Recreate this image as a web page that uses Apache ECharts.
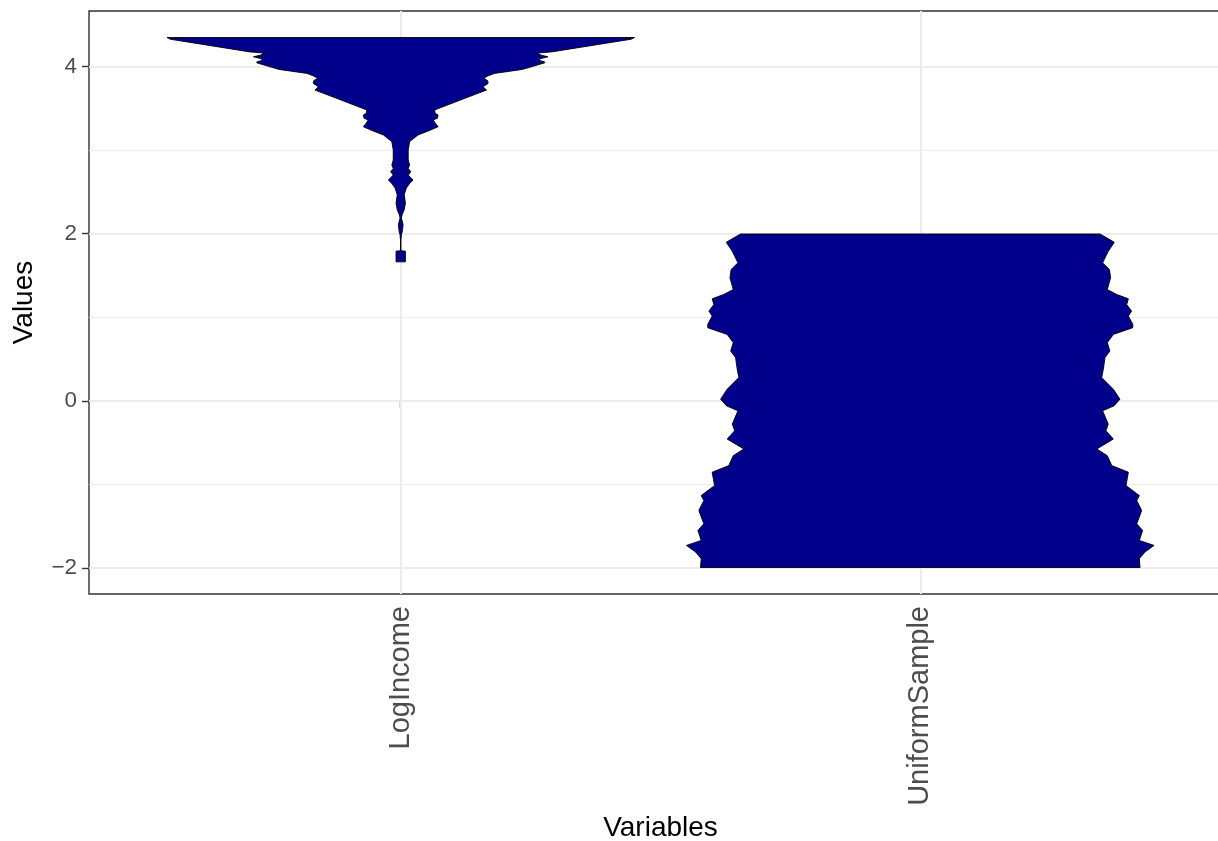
<!DOCTYPE html>
<html>
<head>
<meta charset="utf-8">
<script src="https://cdn.jsdelivr.net/npm/echarts@6/dist/echarts.min.js"></script>
<style>
  html, body { margin: 0; padding: 0; background: #fff; }
  #chart { width: 1218px; height: 841px; }
</style>
</head>
<body>
<div id="chart"></div>
<script>
// ---------- data ----------
const categories = ['LogIncome', 'UniformSample'];
const categoryPositions = [1, 2];
const xAxisTitle = 'Variables';
const yAxisTitle = 'Values';
const yTicks = [-2, 0, 2, 4];
const yMinorGrid = [-1, 1, 3];

// violin outlines: [value, relative half-width (1 = widest)]
const logIncomeProfile = [
  [4.346, 1.000], [4.325, 0.985], [4.174, 0.645], [4.160, 0.585], [4.135, 0.600],
  [4.115, 0.630], [4.095, 0.600], [4.075, 0.588], [4.055, 0.615], [4.043, 0.616],
  [3.964, 0.520], [3.916, 0.400], [3.885, 0.372], [3.857, 0.355], [3.830, 0.372],
  [3.797, 0.374], [3.757, 0.352], [3.717, 0.367], [3.618, 0.274], [3.479, 0.145],
  [3.440, 0.147], [3.419, 0.160], [3.380, 0.157], [3.360, 0.139], [3.320, 0.148],
  [3.279, 0.160], [3.230, 0.120], [3.180, 0.074], [3.100, 0.038], [3.000, 0.032],
  [2.880, 0.032], [2.820, 0.038], [2.780, 0.032], [2.740, 0.043], [2.700, 0.032],
  [2.640, 0.053], [2.600, 0.038], [2.545, 0.024], [2.465, 0.015], [2.365, 0.020],
  [2.286, 0.015], [2.226, 0.006], [2.186, 0.003], [2.107, 0.010], [2.027, 0.007],
  [1.987, 0.003], [1.920, 0.001], [1.795, 0.001], [1.790, 0.020], [1.662, 0.020]
];
const uniformSampleProfile = [
  [1.995, 0.769], [1.896, 0.830], [1.788, 0.804], [1.650, 0.780], [1.570, 0.809],
  [1.471, 0.814], [1.331, 0.800], [1.272, 0.840], [1.220, 0.890], [1.152, 0.883],
  [1.072, 0.904], [1.013, 0.890], [0.914, 0.909], [0.874, 0.909], [0.794, 0.826],
  [0.695, 0.800], [0.595, 0.811], [0.516, 0.790], [0.377, 0.783], [0.278, 0.776],
  [0.138, 0.826], [0.019, 0.854], [-0.061, 0.829], [-0.120, 0.780], [-0.279, 0.804],
  [-0.359, 0.794], [-0.458, 0.826], [-0.577, 0.755], [-0.657, 0.800], [-0.776, 0.819],
  [-0.855, 0.890], [-1.015, 0.880], [-1.134, 0.937], [-1.194, 0.926], [-1.313, 0.947],
  [-1.472, 0.926], [-1.552, 0.951], [-1.671, 0.937], [-1.731, 1.000], [-1.810, 0.961],
  [-1.889, 0.937], [-1.995, 0.940]
];
const profiles = [logIncomeProfile, uniformSampleProfile];

// ---------- chart ----------
const VIOLIN_HALF = 0.45;
const allY = profiles.flat().map(p => p[0]);
const yLo = Math.min(...allY), yHi = Math.max(...allY);
const yPad = (yHi - yLo) * 0.05;

const font = "'Liberation Sans', Arial, Helvetica, sans-serif";
const gridColor = '#EBEBEB';

function fmtNum(v) { return v < 0 ? '\u2212' + Math.abs(v) : String(v); }

const chart = echarts.init(document.getElementById('chart'), null, { renderer: 'canvas' });
const option = {
  animation: false,
  backgroundColor: '#ffffff',
  grid: {
    left: 89, top: 11, width: 1143, height: 583,
    outerBoundsMode: 'none',
    show: true, borderColor: '#333333', borderWidth: 1.4, backgroundColor: 'transparent',
    containLabel: false
  },
  xAxis: {
    type: 'value',
    min: 0.4, max: 2.6,
    axisLine: { show: false },
    splitLine: { show: false },
    axisTick: { show: true, customValues: categoryPositions, length: 7, lineStyle: { color: '#333333', width: 1.4 } },
    axisLabel: {
      show: true, customValues: categoryPositions, rotate: 90, margin: 12,
      fontSize: 29, color: '#4D4D4D', fontFamily: font,
      formatter: v => categories[categoryPositions.indexOf(v)] || ''
    },
    name: xAxisTitle, nameLocation: 'middle', nameGap: 220,
    nameTextStyle: { fontSize: 28, color: '#000000', fontFamily: font }
  },
  yAxis: {
    type: 'value',
    min: yLo - yPad, max: yHi + yPad,
    axisLine: { show: false },
    splitLine: { show: false },
    axisTick: { show: true, customValues: yTicks, length: 7, lineStyle: { color: '#333333', width: 1.4 } },
    axisLabel: {
      show: true, customValues: yTicks, margin: 12,
      fontSize: 22.4, color: '#4D4D4D', fontFamily: font,
      formatter: v => fmtNum(v)
    },
    name: yAxisTitle, nameLocation: 'middle', nameGap: 51, nameRotate: 90,
    nameTextStyle: { fontSize: 28, color: '#000000', fontFamily: font }
  },
  series: [
    {
      type: 'line', data: [], z: 1, silent: true,
      markLine: {
        z: 1, zlevel: 0,
        silent: true, symbol: ['none', 'none'], label: { show: false }, animation: false,
        data: [
          ...yMinorGrid.map(v => ({ yAxis: v, lineStyle: { color: gridColor, width: 1, type: 'solid' } })),
          ...yTicks.map(v => ({ yAxis: v, lineStyle: { color: gridColor, width: 2, type: 'solid' } })),
          ...categoryPositions.map(v => ({ xAxis: v, lineStyle: { color: gridColor, width: 2, type: 'solid' } }))
        ]
      }
    },
    {
      type: 'custom', z: 10,
      data: categoryPositions.map((p, i) => [p, profiles[i][0][0]]),
      renderItem: function (params, api) {
        const xc = api.value(0);
        const prof = profiles[params.dataIndex];
        const pts = [];
        for (let i = 0; i < prof.length; i++) {
          pts.push(api.coord([xc + prof[i][1] * VIOLIN_HALF, prof[i][0]]));
        }
        for (let i = prof.length - 1; i >= 0; i--) {
          pts.push(api.coord([xc - prof[i][1] * VIOLIN_HALF, prof[i][0]]));
        }
        return {
          type: 'polygon',
          shape: { points: pts },
          style: { fill: '#00008B', stroke: '#000000', lineWidth: 0.9, lineJoin: 'round' }
        };
      }
    }
  ]
};
chart.setOption(option);
</script>
</body>
</html>
